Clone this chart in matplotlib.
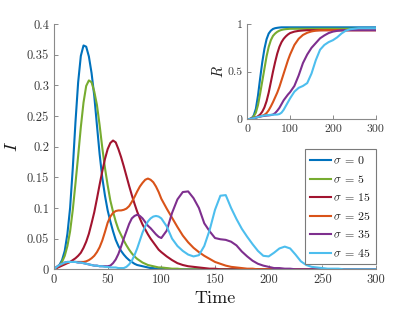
import numpy as np
import matplotlib
matplotlib.use("Agg")
import matplotlib.pyplot as plt

plt.rcParams['font.family'] = ['cmr10', 'DejaVu Serif']
plt.rcParams['mathtext.fontset'] = 'cm'
plt.rcParams['axes.formatter.use_mathtext'] = True

# ---------------- data ----------------
t_I = np.concatenate([np.arange(0, 100.1, 2.5), np.arange(105, 301, 5)])

I_s0 = [0.001, 0.003, 0.007, 0.015, 0.03, 0.058, 0.1, 0.165, 0.24, 0.305, 0.348, 0.365, 0.363, 0.347,
        0.32, 0.283, 0.235, 0.188, 0.149, 0.12, 0.096, 0.078, 0.062, 0.048, 0.038, 0.03, 0.024, 0.019,
        0.015, 0.012, 0.009, 0.007, 0.006, 0.005, 0.004, 0.003, 0.002, 0.002, 0.001, 0.001, 0.001,
        0.001, 0, 0, 0, 0, 0, 0, 0, 0, 0, 0, 0, 0, 0, 0, 0, 0, 0, 0, 0,
        0, 0, 0, 0, 0, 0, 0, 0, 0, 0, 0, 0, 0, 0, 0, 0, 0, 0, 0, 0]
I_s5 = [0.001, 0.003, 0.006, 0.012, 0.022, 0.038, 0.062, 0.097, 0.14, 0.185, 0.232, 0.272, 0.299, 0.308,
        0.305, 0.29, 0.268, 0.235, 0.198, 0.165, 0.137, 0.112, 0.094, 0.078, 0.065, 0.056, 0.047, 0.039,
        0.032, 0.026, 0.021, 0.017, 0.014, 0.011, 0.009, 0.007, 0.006, 0.005, 0.004, 0.003, 0.003,
        0.002, 0.001, 0.001, 0, 0, 0, 0, 0, 0, 0, 0, 0, 0, 0, 0, 0, 0, 0, 0, 0,
        0, 0, 0, 0, 0, 0, 0, 0, 0, 0, 0, 0, 0, 0, 0, 0, 0, 0, 0, 0]
I_s15 = [0.0, 0.002, 0.004, 0.006, 0.008, 0.01, 0.012, 0.015, 0.018, 0.022, 0.027, 0.035, 0.045, 0.058,
         0.075, 0.093, 0.115, 0.138, 0.16, 0.18, 0.196, 0.206, 0.21, 0.207, 0.196, 0.183, 0.168, 0.152,
         0.136, 0.121, 0.107, 0.094, 0.083, 0.073, 0.065, 0.057, 0.05, 0.044, 0.038, 0.032, 0.028,
         0.021, 0.015, 0.01, 0.007, 0.005, 0.004, 0.003, 0.002, 0.001, 0.001, 0, 0, 0, 0, 0, 0, 0, 0, 0, 0,
         0, 0, 0, 0, 0, 0, 0, 0, 0, 0, 0, 0, 0, 0, 0, 0, 0, 0, 0, 0]
I_s25 = [0.0, 0.003, 0.006, 0.008, 0.01, 0.011, 0.012, 0.012, 0.012, 0.012, 0.012, 0.012, 0.013, 0.015,
         0.018, 0.022, 0.028, 0.036, 0.047, 0.061, 0.076, 0.086, 0.092, 0.095, 0.096, 0.096, 0.097, 0.099,
         0.103, 0.11, 0.118, 0.127, 0.135, 0.141, 0.146, 0.148, 0.146, 0.142, 0.135, 0.126, 0.115,
         0.099, 0.084, 0.069, 0.055, 0.044, 0.035, 0.028, 0.022, 0.017, 0.012, 0.009, 0.006, 0.004, 0.003,
         0.002, 0.001, 0.001, 0, 0, 0, 0, 0, 0, 0, 0, 0, 0, 0, 0, 0, 0, 0, 0, 0, 0, 0, 0, 0, 0, 0]
I_s35 = [0.0, 0.004, 0.007, 0.009, 0.011, 0.012, 0.012, 0.012, 0.012, 0.011, 0.011, 0.01, 0.009, 0.008,
         0.007, 0.006, 0.006, 0.005, 0.005, 0.005, 0.005, 0.006, 0.01, 0.016, 0.025, 0.037, 0.05, 0.062,
         0.074, 0.083, 0.087, 0.089, 0.087, 0.083, 0.077, 0.071, 0.067, 0.062, 0.057, 0.053, 0.051,
         0.063, 0.092, 0.114, 0.126, 0.127, 0.116, 0.1, 0.075, 0.062, 0.051, 0.049, 0.048, 0.045, 0.039,
         0.029, 0.021, 0.014, 0.009, 0.006, 0.004, 0.002, 0.002, 0.001, 0.001,
         0, 0, 0, 0, 0, 0, 0, 0, 0, 0, 0, 0, 0, 0, 0, 0]
I_s45 = [0.0, 0.004, 0.007, 0.009, 0.011, 0.012, 0.012, 0.012, 0.012, 0.011, 0.011, 0.01, 0.009, 0.008,
         0.007, 0.006, 0.006, 0.005, 0.005, 0.004, 0.004, 0.003, 0.003, 0.003, 0.002, 0.002, 0.002, 0.004,
         0.008, 0.014, 0.023, 0.034, 0.047, 0.06, 0.07, 0.078, 0.083, 0.086, 0.087, 0.086, 0.083,
         0.07, 0.05, 0.038, 0.03, 0.024, 0.021, 0.023, 0.038, 0.064, 0.097, 0.12, 0.121, 0.1, 0.082,
         0.066, 0.053, 0.041, 0.03, 0.022, 0.021, 0.027, 0.034, 0.037, 0.034, 0.024, 0.013, 0.007, 0.004,
         0.003, 0.002, 0.001, 0.001, 0.001, 0, 0, 0, 0, 0, 0, 0]

t_R = np.concatenate([np.arange(0, 100.1, 5), np.arange(110, 301, 10)])

R_s0 = [0, 0.003, 0.01, 0.04, 0.11, 0.25, 0.43, 0.6, 0.74, 0.84, 0.9, 0.93, 0.948, 0.956, 0.96, 0.963,
        0.965, 0.965, 0.965, 0.965, 0.965,
        0.965, 0.965, 0.965, 0.965, 0.965, 0.965, 0.965, 0.965, 0.965, 0.965,
        0.965, 0.965, 0.965, 0.965, 0.965, 0.965, 0.965, 0.965, 0.965, 0.965]
R_s5 = [0, 0.003, 0.01, 0.03, 0.07, 0.15, 0.27, 0.4, 0.53, 0.66, 0.76, 0.83, 0.875, 0.9, 0.918, 0.93,
        0.938, 0.943, 0.946, 0.948, 0.95,
        0.95, 0.95, 0.95, 0.95, 0.95, 0.95, 0.95, 0.95, 0.95, 0.95,
        0.95, 0.95, 0.95, 0.95, 0.95, 0.95, 0.95, 0.95, 0.95, 0.95]
R_s15 = [0, 0.002, 0.006, 0.012, 0.02, 0.032, 0.05, 0.08, 0.125, 0.19, 0.28, 0.39, 0.5, 0.6, 0.69, 0.76,
         0.81, 0.845, 0.87, 0.89, 0.905,
         0.92, 0.928, 0.932, 0.935, 0.935, 0.935, 0.935, 0.935, 0.935, 0.935,
         0.935, 0.935, 0.935, 0.935, 0.935, 0.935, 0.935, 0.935, 0.935, 0.935]
R_s25 = [0, 0.002, 0.007, 0.012, 0.018, 0.024, 0.03, 0.037, 0.047, 0.065, 0.095, 0.135, 0.18, 0.23, 0.28,
         0.34, 0.41, 0.48, 0.55, 0.62, 0.68,
         0.78, 0.845, 0.885, 0.908, 0.922, 0.93, 0.934, 0.935, 0.935, 0.935,
         0.935, 0.935, 0.935, 0.935, 0.935, 0.935, 0.935, 0.935, 0.935, 0.935]
R_s35 = [0, 0.002, 0.007, 0.012, 0.018, 0.024, 0.029, 0.033, 0.036, 0.039, 0.041, 0.044, 0.05, 0.065,
         0.09, 0.12, 0.16, 0.2, 0.23, 0.26, 0.285,
         0.35, 0.46, 0.59, 0.68, 0.75, 0.8, 0.85, 0.88, 0.905, 0.92,
         0.928, 0.933, 0.935, 0.935, 0.935, 0.935, 0.935, 0.935, 0.935, 0.935]
R_s45 = [0, 0.002, 0.007, 0.012, 0.018, 0.024, 0.03, 0.035, 0.04, 0.043, 0.045, 0.047, 0.048, 0.049,
         0.05, 0.055, 0.07, 0.1, 0.14, 0.18, 0.22,
         0.29, 0.33, 0.35, 0.38, 0.48, 0.62, 0.73, 0.78, 0.81, 0.83,
         0.86, 0.9, 0.93, 0.945, 0.95, 0.955, 0.955, 0.955, 0.955, 0.955]

sigma_labels = [r'$\sigma\:=\:0$', r'$\sigma\:=\:5$', r'$\sigma\:=\:15$',
                r'$\sigma\:=\:25$', r'$\sigma\:=\:35$', r'$\sigma\:=\:45$']
colors = ['#0072BD', '#77AC30', '#A2142F', '#D95319', '#7E2F8E', '#4DBEEE']

main_xticks = [0, 50, 100, 150, 200, 250, 300]
main_yticks = [0, 0.05, 0.1, 0.15, 0.2, 0.25, 0.3, 0.35, 0.4]
main_yticklabels = ['0', '0.05', '0.1', '0.15', '0.2', '0.25', '0.3', '0.35', '0.4']
inset_xticks = [0, 100, 200, 300]
inset_yticks = [0, 0.5, 1]
inset_yticklabels = ['0', '0.5', '1']

I_series = [I_s0, I_s5, I_s15, I_s25, I_s35, I_s45]
R_series = [R_s0, R_s5, R_s15, R_s25, R_s35, R_s45]
for s in I_series:
    assert len(s) == len(t_I), len(s)
for s in R_series:
    assert len(s) == len(t_R), len(s)

# ---------------- figure ----------------
W, H = 415, 312
fig = plt.figure(figsize=(W / 100, H / 100), dpi=100)

axis_col = '#3a3a3a'
spine_col = '#8a8a8a'


def style(ax, fs):
    for side in ['top', 'right']:
        ax.spines[side].set_visible(False)
    for side in ['left', 'bottom']:
        ax.spines[side].set_color(spine_col)
        ax.spines[side].set_linewidth(0.8)
    ax.tick_params(direction='in', length=2.8, width=0.7, color=spine_col,
                   labelsize=fs, labelcolor=axis_col, pad=3.5)


ax = fig.add_axes([54 / W, 1 - 269.3 / H, 322 / W, 245.3 / H])
for y, c, lab in zip(I_series, colors, sigma_labels):
    ax.plot(t_I, y, color=c, lw=1.5, label=lab, solid_joinstyle='round')
ax.set_xlim(0, 300)
ax.set_ylim(0, 0.4)
ax.set_xticks(main_xticks)
ax.set_xticklabels([str(v) for v in main_xticks])
ax.set_yticks(main_yticks)
ax.set_yticklabels(main_yticklabels)
style(ax, 9)
ax.set_xlabel('Time', fontsize=13, color='#1a1a1a', labelpad=3)
ax.set_ylabel(r'$I$', fontsize=13, color='#1a1a1a', labelpad=5)

leg = ax.legend(loc='upper right', bbox_to_anchor=(1.0, 0.489), borderaxespad=0,
                fontsize=8.6, frameon=True, fancybox=False, framealpha=1,
                edgecolor='#7a7a7a', handlelength=1.75, handletextpad=0.2,
                labelspacing=0.55, borderpad=0.4)
leg.get_frame().set_linewidth(0.8)
for txt in leg.get_texts():
    txt.set_color('#1a1a1a')

axi = fig.add_axes([247.3 / W, 1 - 119.3 / H, 128.4 / W, 95.3 / H])
for y, c in zip(R_series, colors):
    axi.plot(t_R, y, color=c, lw=1.5, solid_joinstyle='round')
axi.set_xlim(0, 300)
axi.set_ylim(0, 1)
axi.set_xticks(inset_xticks)
axi.set_xticklabels([str(v) for v in inset_xticks])
axi.set_yticks(inset_yticks)
axi.set_yticklabels(inset_yticklabels)
style(axi, 8.5)
axi.set_ylabel(r'$R$', fontsize=10.5, color='#1a1a1a', labelpad=1)

fig.savefig('out.png', dpi=100)
